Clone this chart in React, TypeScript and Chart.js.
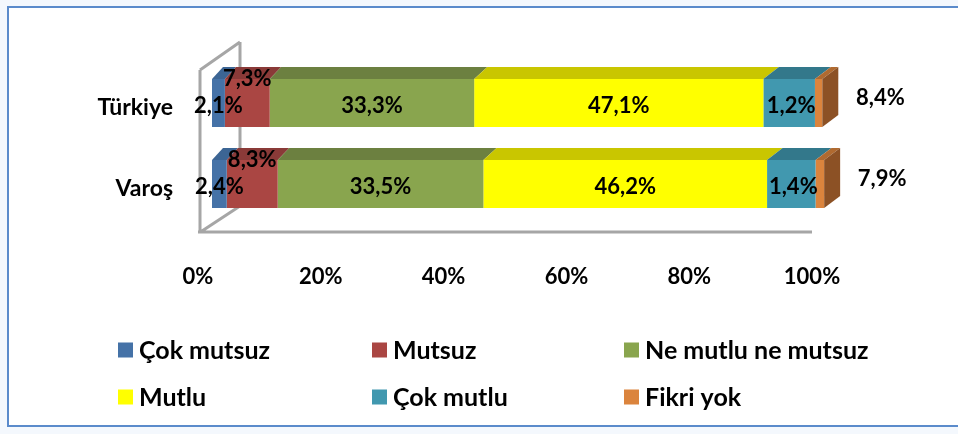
import React, { useEffect, useRef } from "react";
import { Chart, registerables } from "chart.js";

Chart.register(...registerables);

// ---- data ----
const categories = ["Türkiye", "Varoş"];
const seriesNames = ["Çok mutsuz", "Mutsuz", "Ne mutlu ne mutsuz", "Mutlu", "Çok mutlu", "Fikri yok"];
const cokMutsuz = [2.1, 2.4];
const mutsuz = [7.3, 8.3];
const neMutluNeMutsuz = [33.3, 33.5];
const mutlu = [47.1, 46.2];
const cokMutlu = [8.4, 7.9];
const fikriYok = [1.2, 1.4];
const xTickValues = [0, 20, 40, 60, 80, 100];

// ---- styles ----
const frontColors = ["#4572A7", "#AA4643", "#89A54E", "#FFFF00", "#4198AF", "#DB843D"];
const topColors = ["#3C6594", "#8A3A38", "#6C8040", "#C9C600", "#33788B", "#B06A30"];
const sideColor = "#8C5125";
const FONT = "Lato";

const fmt = (v: number) => v.toFixed(1).replace(".", ",") + "%";

const decorPlugin = {
  id: "decor3d",
  beforeDraw(chart: any) {
    const { ctx, width, height } = chart;
    ctx.save();
    ctx.fillStyle = "#F4F8FD";
    ctx.fillRect(0, 0, width, height);
    ctx.fillStyle = "#FFFFFF";
    ctx.fillRect(8, 7, width, height - 15);
    ctx.strokeStyle = "#5B8BCB";
    ctx.lineWidth = 2;
    ctx.strokeRect(8, 7, width + 10, height - 15);
    ctx.restore();
  },
  beforeDatasetsDraw(chart: any) {
    const { ctx, chartArea } = chart;
    const xs = chart.scales.x.getPixelForValue(0);
    const xe = chart.scales.x.getPixelForValue(100);
    const xl = xs - 12;
    const yt = chartArea.top + 7.5;
    const yb = chartArea.bottom + 7.5;
    ctx.save();
    ctx.strokeStyle = "#A6A6A6";
    ctx.lineWidth = 3;
    ctx.lineCap = "butt";
    ctx.beginPath();
    ctx.moveTo(xl, yt);
    ctx.lineTo(xl, yb);
    ctx.moveTo(xl - 2, yb);
    ctx.lineTo(xe - 14, yb);
    ctx.moveTo(xl, yt);
    ctx.lineTo(xl + 40, yt - 28);
    ctx.moveTo(xl + 40, yt - 28);
    ctx.lineTo(xl + 40, yb - 26);
    ctx.moveTo(xl + 2, yb - 1);
    ctx.lineTo(xl + 40, yb - 26);
    ctx.stroke();
    ctx.restore();
  },
  afterDatasetsDraw(chart: any) {
    const { ctx } = chart;
    const xs = chart.scales.x.getPixelForValue(0);
    const span = chart.scales.x.getPixelForValue(100) - xs;
    const dxAt = (x: number) => 11 + (5 * (x - xs)) / span;
    const dy = 12;
    const n = chart.data.datasets.length;
    ctx.save();
    for (let i = 0; i < n; i++) {
      const meta = chart.getDatasetMeta(i);
      meta.data.forEach((el: any) => {
        const x0 = Math.min(el.base, el.x);
        const x1 = Math.max(el.base, el.x);
        const yTop = el.y - el.height / 2;
        const yBot = el.y + el.height / 2;
        ctx.fillStyle = topColors[i];
        ctx.beginPath();
        ctx.moveTo(x0, yTop);
        ctx.lineTo(x1, yTop);
        ctx.lineTo(x1 + dxAt(x1), yTop - dy);
        ctx.lineTo(x0 + dxAt(x0), yTop - dy);
        ctx.closePath();
        ctx.fill();
        if (i === n - 1) {
          ctx.fillStyle = sideColor;
          ctx.beginPath();
          ctx.moveTo(x1, yTop);
          ctx.lineTo(x1 + dxAt(x1), yTop - dy);
          ctx.lineTo(x1 + dxAt(x1), yBot - dy);
          ctx.lineTo(x1, yBot);
          ctx.closePath();
          ctx.fill();
        }
      });
    }
    // data labels (placed as in the original Excel rendering)
    ctx.fillStyle = "#000";
    ctx.font = `bold 22px ${FONT}`;
    ctx.textAlign = "center";
    ctx.textBaseline = "middle";
    for (let i = 0; i < n; i++) {
      const meta = chart.getDatasetMeta(i);
      meta.data.forEach((el: any, j: number) => {
        const v = chart.data.datasets[i].data[j] as number;
        const yTop = el.y - el.height / 2;
        let cx = (el.base + el.x) / 2;
        let cy = el.y + 3;
        if (i === 1) {
          cy = yTop;
        } else if (i === n - 2) {
          const last = chart.getDatasetMeta(n - 1).data[j] as any;
          cx = last.x + 58;
          cy = el.y - 5;
        } else if (i === n - 1) {
          const prev = chart.getDatasetMeta(n - 2).data[j] as any;
          cx = (prev.base + prev.x) / 2 + 2;
          cy = el.y + 3;
        }
        ctx.fillText(fmt(v), cx, cy);
      });
    }
    ctx.restore();
  },
  afterDraw(chart: any) {
    const { ctx } = chart;
    const colX = [118, 372, 624];
    const rowY = [350, 397];
    ctx.save();
    ctx.font = `bold 25px ${FONT}`;
    ctx.textAlign = "left";
    ctx.textBaseline = "middle";
    chart.data.datasets.forEach((ds: any, i: number) => {
      const x = colX[i % 3];
      const y = rowY[Math.floor(i / 3)];
      ctx.fillStyle = ds.backgroundColor;
      ctx.fillRect(x, y - 7.5, 15, 15);
      ctx.fillStyle = "#000";
      ctx.fillText(ds.label, x + 21, y + 1);
    });
    ctx.restore();
  },
};

export default function App() {
  const ref = useRef<HTMLCanvasElement>(null);
  useEffect(() => {
    if (!ref.current) return;
    Chart.defaults.font.family = FONT;
    const seriesData = [cokMutsuz, mutsuz, neMutluNeMutsuz, mutlu, cokMutlu, fikriYok];
    const chart = new Chart(ref.current, {
      type: "bar",
      data: {
        labels: categories,
        datasets: seriesNames.map((name, i) => ({
          label: name,
          data: seriesData[i],
          backgroundColor: frontColors[i],
          borderWidth: 0,
          categoryPercentage: 1,
          barPercentage: 0.593,
        })),
      },
      options: {
        indexAxis: "y",
        animation: false,
        responsive: false,
        maintainAspectRatio: false,
        layout: { padding: { left: 0, top: 62.5, right: 132, bottom: 139.5 } },
        plugins: {
          legend: { display: false },
          tooltip: { enabled: false },
        },
        scales: {
          x: {
            stacked: true,
            min: 0,
            max: 100,
            afterBuildTicks: (scale: any) => {
              scale.ticks = xTickValues.map((v) => ({ value: v }));
            },
            afterFit: (scale: any) => {
              scale.height = 70;
            },
            grid: { display: false, drawTicks: false },
            border: { display: false },
            ticks: {
              callback: (v: any) => v + "%",
              font: { size: 22, weight: "bold", family: FONT },
              color: "#000",
              padding: 39,
              labelOffset: -14,
              maxRotation: 0,
            },
          },
          y: {
            stacked: true,
            afterFit: (scale: any) => {
              scale.width = 212;
            },
            grid: { display: false, drawTicks: false },
            border: { display: false },
            ticks: {
              font: { size: 23, weight: "bold", family: FONT },
              color: "#000",
              padding: 39,
              labelOffset: 5,
            },
          },
        },
      },
      plugins: [decorPlugin],
    });
    return () => chart.destroy();
  }, []);
  return (
    <div style={{ position: "fixed", left: 0, top: 0, width: 958, height: 434 }}>
      <canvas ref={ref} width={958} height={434} style={{ display: "block" }} />
    </div>
  );
}
